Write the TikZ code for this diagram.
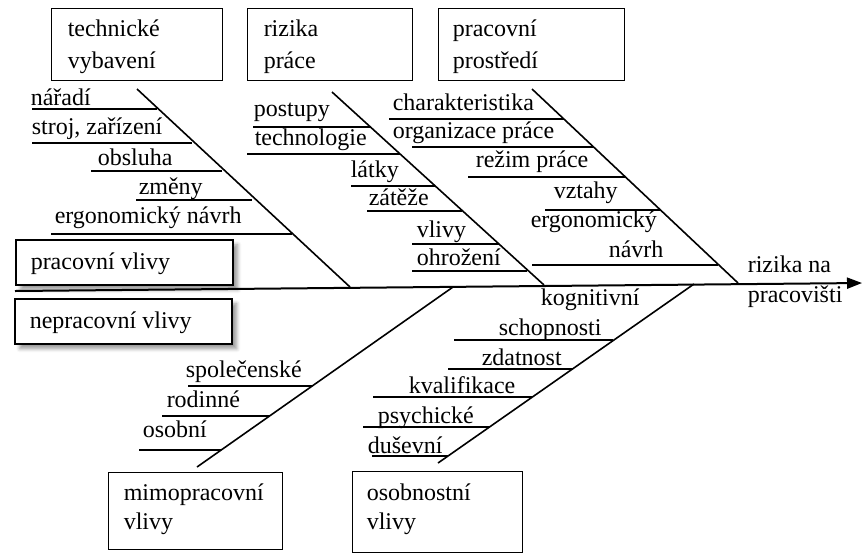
\documentclass[tikz,border=0pt]{standalone}
\usepackage{fontspec}
\setmainfont{Liberation Serif}
\usetikzlibrary{arrows.meta,shadows.blur}

\tikzset{every picture/.style={line width=0.75pt}}
\tikzset{
  catbox/.style={draw, line width=0.6pt, anchor=north west, inner sep=0pt},
  mainbox/.style={draw, line width=1.2pt, fill=white, anchor=north west, inner sep=0pt, blur shadow},
  lbl/.style={anchor=base west, inner sep=0pt, font=\fontsize{12}{16}\selectfont},
  boxlbl/.style={lbl, align=left},
  lowlbl/.style={lbl, align=left, font=\fontsize{12}{14.5}\selectfont},
  bone/.style={line width=0.8pt},
  twig/.style={line width=0.8pt},
}

\begin{document}
\begin{tikzpicture}[x=0.5pt,y=0.5pt,yscale=-1,xscale=1]
    \useasboundingbox (0,0) rectangle (865,558);
    %Category boxes (label anchored on its last line)
    \node[catbox, minimum width=85.5pt, minimum height=36pt] (tvbox) at (51,8) {};
    \node[boxlbl] (tv) at (67,68) {technické\\vybavení};
    \node[catbox, minimum width=82.5pt, minimum height=36pt] (rpbox) at (247,8) {};
    \node[boxlbl] (rp) at (263,68) {rizika\\práce};
    \node[catbox, minimum width=93pt, minimum height=36pt] (ppbox) at (438,8) {};
    \node[boxlbl] (pp) at (452,68) {pracovní\\prostředí};
    \node[catbox, minimum width=87pt, minimum height=38.5pt] (mvbox) at (108,472) {};
    \node[lowlbl] (mv) at (123,529) {mimopracovní\\vlivy};
    \node[catbox, minimum width=85pt, minimum height=40.5pt] (ovbox) at (352,471) {};
    \node[lowlbl] (ov) at (366,529) {osobnostní\\vlivy};
    %Shadowed boxes
    \node[mainbox, minimum width=108.5pt, minimum height=22.5pt] (pvbox) at (15,239) {};
    \node[lbl] (pv) at (30,269) {pracovní vlivy};
    \node[mainbox, minimum width=108.5pt, minimum height=22.5pt] (npvbox) at (14,298) {};
    \node[lbl] (npv) at (29,328) {nepracovní vlivy};
    %Effect
    \node[lbl, align=left, font=\fontsize{12}{15}\selectfont] (eff) at (747,302) {rizika na\\pracovišti};

    %Spine
    \coordinate (tail) at (15,291);
    \coordinate (head) at (862,283);
    \draw[line width=1pt, -{Triangle[length=7.5pt,width=5.5pt]}] (tail) -- (head);

    %Ribs
    \coordinate (tvtop) at (137,89);  \coordinate (tvend) at (350,287);
    \coordinate (rptop) at (332,92);  \coordinate (rpend) at (544,285);
    \coordinate (pptop) at (532,89);  \coordinate (ppend) at (738,283);
    \coordinate (mvtop) at (197,467); \coordinate (mvend) at (453,287);
    \coordinate (ovtop) at (438,463); \coordinate (ovend) at (694,284);
    \draw[bone] (tvtop) -- (tvend);
    \draw[bone] (rptop) -- (rpend);
    \draw[bone] (pptop) -- (ppend);
    \draw[bone] (mvtop) -- (mvend);
    \draw[bone] (ovtop) -- (ovend);

    %technicke vybaveni
    \node[lbl] (t1) at (30,105) {nářadí};
    \node[lbl] (t2) at (31,134) {stroj, zařízení};
    \node[lbl] (t3) at (97,165) {obsluha};
    \node[lbl] (t4) at (138,194) {změny};
    \node[lbl] (t5) at (54,223) {ergonomický návrh};
    \draw[twig] (32,109) -- (157,109);
    \draw[twig] (32,143) -- (192,143);
    \draw[twig] (91,171) -- (222,171);
    \draw[twig] (136,200) -- (252,200);
    \draw[twig] (51,234) -- (292,234);

    %rizika prace
    \node[lbl] (r1) at (253,116) {postupy};
    \node[lbl] (r2) at (254,145) {technologie};
    \node[lbl] (r3) at (350,177) {látky};
    \node[lbl] (r4) at (368,205) {zátěže};
    \node[lbl] (r5) at (416,237) {vlivy};
    \node[lbl] (r6) at (416,265) {ohrožení};
    \draw[twig] (253,127) -- (370,127);
    \draw[twig] (247,154) -- (400,154);
    \draw[twig] (351,186) -- (435,186);
    \draw[twig] (367,211) -- (462,211);
    \draw[twig] (412,244) -- (499,244);
    \draw[twig] (412,271) -- (527,271);

    %pracovni prostredi
    \node[lbl] (p1) at (392,110) {charakteristika};
    \node[lbl] (p2) at (392,138) {organizace práce};
    \node[lbl] (p3) at (475,167) {režim práce};
    \node[lbl] (p4) at (553,198) {vztahy};
    \node[lbl] (p5) at (530,227) {ergonomický};
    \node[lbl] (p6) at (608,257) {návrh};
    \draw[twig] (389,119) -- (564,119);
    \draw[twig] (412,147) -- (594,147);
    \draw[twig] (468,177) -- (625,177);
    \draw[twig] (545,210) -- (660,210);
    \draw[twig] (532,265) -- (718,265);

    %mimopracovni vlivy
    \node[lbl] (m1) at (185,377) {společenské};
    \node[lbl] (m2) at (166,407) {rodinné};
    \node[lbl] (m3) at (142,437) {osobní};
    \draw[twig] (188,386) -- (312,386);
    \draw[twig] (162,416) -- (269,416);
    \draw[twig] (139,450) -- (221,450);

    %osobnostni vlivy
    \node[lbl] (o1) at (540,305) {kognitivní};
    \node[lbl] (o2) at (498,335) {schopnosti};
    \node[lbl] (o3) at (481,365) {zdatnost};
    \node[lbl] (o4) at (408,393) {kvalifikace};
    \node[lbl] (o5) at (377,423) {psychické};
    \node[lbl] (o6) at (367,453) {duševní};
    \draw[twig] (454,340) -- (613,340);
    \draw[twig] (448,369) -- (572,369);
    \draw[twig] (373,397) -- (532,397);
    \draw[twig] (363,427) -- (489,427);
    \draw[twig] (372,456) -- (448,456);
\end{tikzpicture}
\end{document}
